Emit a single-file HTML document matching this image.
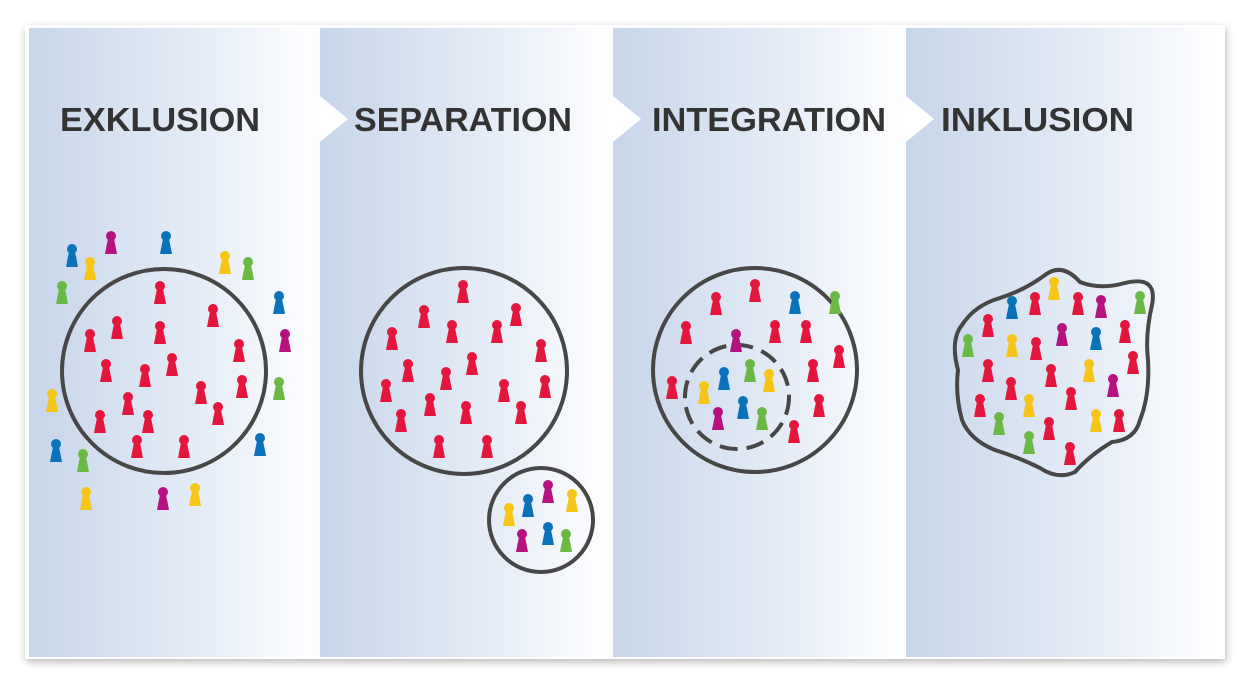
<!DOCTYPE html>
<html><head><meta charset="utf-8"><style>
body{margin:0;width:1249px;height:685px;background:#fff;overflow:hidden;font-family:"Liberation Sans",sans-serif}
</style></head><body>
<svg width="1249" height="685" viewBox="0 0 1249 685" xmlns="http://www.w3.org/2000/svg">
<defs>
<linearGradient id="g" x1="0" x2="1" y1="0" y2="0">
<stop offset="0" stop-color="#c7d5ea"/><stop offset="0.6" stop-color="#e6edf7"/><stop offset="1" stop-color="#ffffff"/>
</linearGradient>
<filter id="sh" x="-5%" y="-5%" width="110%" height="110%"><feGaussianBlur stdDeviation="4"/></filter>
<g id="f"><circle cx="0" cy="-6" r="5"/><path d="M-3,-3 L3,-3 L4.5,4 L6,12 L-6,12 L-4.5,4 Z"/></g>
</defs>
<rect x="26" y="28" width="1200" height="634" fill="#888" filter="url(#sh)" opacity="0.6"/>
<rect x="25" y="25" width="1200" height="634" fill="#fff"/>
<rect x="29" y="28" width="291" height="629" fill="url(#g)"/>
<rect x="320" y="28" width="293" height="629" fill="url(#g)"/>
<rect x="613" y="28" width="293" height="629" fill="url(#g)"/>
<rect x="906" y="28" width="316" height="629" fill="url(#g)"/>
<g fill="#fff"><path d="M320,96 L348,119 L320,142Z"/><path d="M613,96 L641,119 L613,142Z"/><path d="M906,96 L934,119 L906,142Z"/></g>
<g font-family="Liberation Sans, sans-serif" font-weight="bold" font-size="33" fill="#333">
<text x="60" y="131" textLength="200" lengthAdjust="spacingAndGlyphs">EXKLUSION</text>
<text x="354" y="131" textLength="218" lengthAdjust="spacingAndGlyphs">SEPARATION</text>
<text x="652" y="131" textLength="234" lengthAdjust="spacingAndGlyphs">INTEGRATION</text>
<text x="941" y="131" textLength="193" lengthAdjust="spacingAndGlyphs">INKLUSION</text>
</g>
<g fill="none" stroke="#474747" stroke-width="4">
<circle cx="164" cy="371" r="102"/>
<circle cx="464" cy="371" r="103"/>
<circle cx="541" cy="520" r="52"/>
<circle cx="755" cy="370" r="102"/>
<circle cx="737" cy="397" r="52" stroke-dasharray="18 9"/>
<path stroke-linejoin="round" d="M962,325 Q975,305 1000,298 Q1025,290 1045,275 Q1062,262 1080,282 Q1100,290 1125,283 Q1158,275 1152,305 Q1145,335 1148,360 Q1150,395 1140,420 Q1135,440 1112,442 Q1090,455 1075,472 Q1058,480 1040,468 Q1020,458 995,450 Q970,440 962,420 Q955,395 958,370 Q950,340 962,325Z"/>
</g>
<g fill="#e3173e">
<use href="#f" x="160" y="292"/><use href="#f" x="213" y="315"/><use href="#f" x="117" y="327"/><use href="#f" x="160" y="332"/><use href="#f" x="90" y="340"/><use href="#f" x="239" y="350"/><use href="#f" x="106" y="370"/><use href="#f" x="145" y="375"/><use href="#f" x="172" y="364"/><use href="#f" x="201" y="392"/><use href="#f" x="242" y="386"/><use href="#f" x="128" y="403"/><use href="#f" x="218" y="413"/><use href="#f" x="100" y="421"/><use href="#f" x="148" y="421"/><use href="#f" x="137" y="446"/><use href="#f" x="184" y="446"/>
<use href="#f" x="463" y="291"/><use href="#f" x="424" y="316"/><use href="#f" x="516" y="314"/><use href="#f" x="452" y="331"/><use href="#f" x="497" y="331"/><use href="#f" x="392" y="338"/><use href="#f" x="541" y="350"/><use href="#f" x="408" y="370"/><use href="#f" x="472" y="363"/><use href="#f" x="386" y="390"/><use href="#f" x="446" y="378"/><use href="#f" x="430" y="404"/><use href="#f" x="504" y="390"/><use href="#f" x="545" y="386"/><use href="#f" x="401" y="420"/><use href="#f" x="466" y="412"/><use href="#f" x="521" y="412"/><use href="#f" x="439" y="446"/><use href="#f" x="487" y="446"/>
<use href="#f" x="716" y="303"/><use href="#f" x="755" y="290"/><use href="#f" x="686" y="332"/><use href="#f" x="775" y="331"/><use href="#f" x="806" y="331"/><use href="#f" x="839" y="356"/><use href="#f" x="813" y="370"/><use href="#f" x="672" y="387"/><use href="#f" x="819" y="405"/><use href="#f" x="794" y="431"/>
<use href="#f" x="1035" y="303"/><use href="#f" x="1078" y="303"/><use href="#f" x="988" y="325"/><use href="#f" x="1125" y="331"/><use href="#f" x="1036" y="348"/><use href="#f" x="1133" y="362"/><use href="#f" x="988" y="370"/><use href="#f" x="1051" y="375"/><use href="#f" x="1011" y="388"/><use href="#f" x="980" y="405"/><use href="#f" x="1071" y="398"/><use href="#f" x="1119" y="420"/><use href="#f" x="1049" y="428"/><use href="#f" x="1070" y="453"/>
</g>
<g fill="#0a72b8">
<use href="#f" x="72" y="255"/><use href="#f" x="166" y="242"/><use href="#f" x="279" y="302"/><use href="#f" x="56" y="450"/><use href="#f" x="260" y="444"/>
<use href="#f" x="528" y="505"/><use href="#f" x="548" y="533"/>
<use href="#f" x="795" y="302"/><use href="#f" x="724" y="378"/><use href="#f" x="743" y="407"/>
<use href="#f" x="1012" y="307"/><use href="#f" x="1096" y="338"/>
</g>
<g fill="#b5127f">
<use href="#f" x="111" y="242"/><use href="#f" x="285" y="340"/><use href="#f" x="163" y="498"/>
<use href="#f" x="548" y="491"/><use href="#f" x="522" y="540"/>
<use href="#f" x="736" y="340"/><use href="#f" x="718" y="418"/>
<use href="#f" x="1101" y="306"/><use href="#f" x="1062" y="334"/><use href="#f" x="1113" y="385"/>
</g>
<g fill="#f5c518">
<use href="#f" x="90" y="268"/><use href="#f" x="225" y="262"/><use href="#f" x="52" y="400"/><use href="#f" x="86" y="498"/><use href="#f" x="195" y="494"/>
<use href="#f" x="572" y="500"/><use href="#f" x="509" y="514"/>
<use href="#f" x="704" y="392"/><use href="#f" x="769" y="380"/>
<use href="#f" x="1054" y="288"/><use href="#f" x="1012" y="345"/><use href="#f" x="1089" y="370"/><use href="#f" x="1029" y="405"/><use href="#f" x="1096" y="420"/>
</g>
<g fill="#6ab944">
<use href="#f" x="248" y="268"/><use href="#f" x="62" y="292"/><use href="#f" x="279" y="388"/><use href="#f" x="83" y="460"/>
<use href="#f" x="566" y="540"/>
<use href="#f" x="835" y="302"/><use href="#f" x="750" y="370"/><use href="#f" x="762" y="418"/>
<use href="#f" x="1140" y="302"/><use href="#f" x="968" y="345"/><use href="#f" x="999" y="423"/><use href="#f" x="1029" y="442"/>
</g>
</svg>
</body></html>
